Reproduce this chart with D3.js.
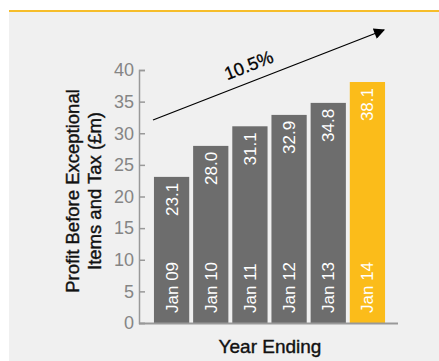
<!DOCTYPE html>
<html>
<head>
<meta charset="utf-8">
<script src="https://cdn.jsdelivr.net/npm/d3@7"></script>
<style>
  body { margin: 0; background: #fff; }
  svg { display: block; font-family: "Liberation Sans", Arial, sans-serif; }
</style>
</head>
<body>
<div id="chart"></div>
<script>
// data
var years = ["Jan 09", "Jan 10", "Jan 11", "Jan 12", "Jan 13", "Jan 14"];
var profit = [23.1, 28.0, 31.1, 32.9, 34.8, 38.1];
var yTicks = [0, 5, 10, 15, 20, 25, 30, 35, 40];
var growthLabel = "10.5%";

var W = 439, H = 361;
var svg = d3.select("#chart").append("svg")
    .attr("width", W).attr("height", H);

// panel
svg.append("rect").attr("x", 9).attr("y", 11).attr("width", W - 9).attr("height", H - 11)
    .attr("fill", "#f0f0f0");
svg.append("line").attr("x1", 9).attr("x2", W).attr("y1", 11).attr("y2", 11)
    .attr("stroke", "#f6bd2a").attr("stroke-width", 2);

var x = d3.scaleBand()
    .domain(years)
    .range([152, 387])
    .paddingInner(0.1)
    .paddingOuter(0.05);

var y = d3.scaleLinear()
    .domain([0, 40])
    .range([323, 70]);

// bars
svg.selectAll(".bar")
    .data(years)
    .enter().append("rect")
    .attr("class", "bar")
    .attr("x", function(d) { return x(d); })
    .attr("y", function(d, i) { return y(profit[i]); })
    .attr("width", x.bandwidth())
    .attr("height", function(d, i) { return y(0) - y(profit[i]); })
    .attr("fill", function(d, i) { return i == years.length - 1 ? "#fbbc1a" : "#6d6d6d"; });

// value labels
svg.selectAll(".val")
    .data(years)
    .enter().append("text")
    .attr("transform", function(d, i) {
        return "translate(" + (x(d) + x.bandwidth() / 2 + 6) + "," + (y(profit[i]) + 6) + ") rotate(-90)";
    })
    .attr("text-anchor", "end")
    .attr("fill", "#fff")
    .style("font-size", "17px")
    .text(function(d, i) { return profit[i].toFixed(1); });

// year labels inside bars
svg.selectAll(".yr")
    .data(years)
    .enter().append("text")
    .attr("transform", function(d) {
        return "translate(" + (x(d) + x.bandwidth() / 2 + 6) + "," + (y(0) - 10) + ") rotate(-90)";
    })
    .attr("text-anchor", "start")
    .attr("fill", "#fff")
    .style("font-size", "17px")
    .text(function(d) { return d; });

// y axis
var yAxis = svg.append("g")
    .attr("transform", "translate(139,0)")
    .call(d3.axisRight(y).tickValues(yTicks).tickSize(6).tickFormat(d3.format("d")));
yAxis.select(".domain").attr("stroke", "#999").attr("stroke-width", 1.5);
yAxis.selectAll(".tick line").attr("stroke", "#999").attr("stroke-width", 1.5);
yAxis.selectAll(".tick text")
    .attr("x", -5).attr("text-anchor", "end")
    .attr("fill", "#858585")
    .style("font-size", "18px");

// x axis line
svg.append("line")
    .attr("x1", 139).attr("x2", 398)
    .attr("y1", y(0) + 0.5).attr("y2", y(0) + 0.5)
    .attr("stroke", "#999").attr("stroke-width", 2);

// axis titles
var yt = svg.append("text")
    .attr("transform", "translate(85,191) rotate(-90)")
    .attr("text-anchor", "middle")
    .attr("fill", "#111")
    .attr("stroke", "#111").attr("stroke-width", 0.4)
    .style("font-size", "18.5px");
yt.append("tspan").attr("x", 0).attr("dy", "-0.35em").text("Profit Before Exceptional");
yt.append("tspan").attr("x", 0).attr("dy", "1.2em").text("Items and Tax (£m)");

svg.append("text")
    .attr("x", 270).attr("y", 353)
    .attr("text-anchor", "middle")
    .attr("fill", "#111")
    .attr("stroke", "#111").attr("stroke-width", 0.4)
    .style("font-size", "19px")
    .text("Year Ending");

// growth arrow
svg.append("defs").append("marker")
    .attr("id", "arr")
    .attr("viewBox", "0 0 10 10")
    .attr("refX", 9).attr("refY", 5)
    .attr("markerWidth", 13).attr("markerHeight", 11)
    .attr("markerUnits", "userSpaceOnUse")
    .attr("orient", "auto")
    .append("path").attr("d", "M0,0L10,5L0,10Z").attr("fill", "#000");

var ax0 = 153, ay0 = 120, ax1 = 384, ay1 = 30;
svg.append("line")
    .attr("x1", ax0).attr("y1", ay0).attr("x2", ax1).attr("y2", ay1)
    .attr("stroke", "#000").attr("stroke-width", 1.3)
    .attr("marker-end", "url(#arr)");
var ang = Math.atan2(ay1 - ay0, ax1 - ax0) * 180 / Math.PI;
svg.append("text")
    .attr("transform", "translate(251,71) rotate(" + ang + ")")
    .attr("text-anchor", "middle")
    .attr("fill", "#000")
    .attr("stroke", "#000").attr("stroke-width", 0.3)
    .style("font-size", "18px")
    .text(growthLabel);
</script>
</body>
</html>
